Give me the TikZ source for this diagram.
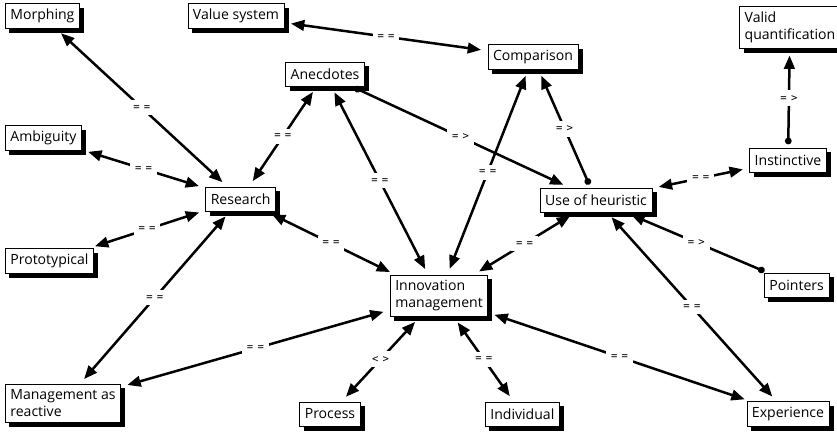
\documentclass[tikz,border=0pt]{standalone}
\usepackage{fontspec}
\setmainfont{Open Sans}
\newfontfamily\labfont[LetterSpace=40]{DejaVu Sans Mono}
\usetikzlibrary{arrows.meta,backgrounds}

\begin{document}
\begin{tikzpicture}[
  box/.style={draw, line width=0.6pt, fill=white, align=left, font=\fontsize{12}{14.5}\selectfont, minimum height=7.2mm, inner xsep=1.5mm, inner ysep=1.6mm},
  arr/.style={{Triangle[length=4mm, width=3.2mm]}-{Triangle[length=4mm, width=3.2mm]}, line width=0.75mm, shorten <=2mm, shorten >=2mm},
  darr/.style={{Circle[length=2mm]}-{Triangle[length=4mm, width=3.2mm]}, line width=0.75mm, shorten <=1mm, shorten >=2mm},
  lab/.style={fill=white, font=\labfont\fontsize{9}{10}\selectfont, inner sep=1.5mm}]
\useasboundingbox (0,0) rectangle (25.11,-12.96);
\node[box, anchor=west] (morph) at (0.15,-0.48) {Morphing};
\node[box] (valsys) at (7.08,-0.48) {Value system};
\node[box] (validq) at (23.70,-0.83) {Valid\\quantification};
\node[box] (comp) at (15.99,-1.71) {Comparison};
\node[box] (anec) at (9.75,-2.22) {Anecdotes};
\node[box, anchor=west] (ambig) at (0.15,-4.14) {Ambiguity};
\node[box] (res) at (7.22,-5.97) {Research};
\node[box] (instinct) at (23.64,-4.80) {Instinctive};
\node[box] (heur) at (17.88,-6.00) {Use of heuristic};
\node[box, anchor=west] (proto) at (0.15,-7.83) {Prototypical};
\node[box] (innov) at (13.17,-8.88) {Innovation\\management};
\node[box] (point) at (23.90,-8.55) {Pointers};
\node[box, anchor=west] (mgmt) at (0.15,-12.10) {Management as\\reactive};
\node[box] (proc) at (9.90,-12.42) {Process};
\node[box] (indiv) at (15.67,-12.42) {Individual};
\node[box] (exper) at (23.64,-12.42) {Experience};
% shadows
\begin{scope}[on background layer]
\foreach \n in {morph,valsys,validq,comp,anec,ambig,res,instinct,heur,proto,innov,point,mgmt,proc,indiv,exper}
  \fill[black] ([shift={(1.3mm,-1.3mm)}]\n.south west) rectangle ([shift={(1.3mm,-1.3mm)}]\n.north east);
\end{scope}
\foreach \a/\b/\t in {res/morph/{==}, res/ambig/{==}, res/proto/{==}, res/mgmt/{==}, res/anec/{==}, res/innov/{==}, innov/anec/{==}, innov/comp/{==}, innov/heur/{==}, innov/mgmt/{==}, innov/proc/{<>}, innov/indiv/{==}, innov/exper/{==}, heur/exper/{==}, heur/instinct/{==}, valsys/comp/{==}}
  \draw[arr] (\a) -- node[lab] {\t} (\b);
\foreach \a/\b in {point/heur, anec/heur, heur/comp, instinct/validq}
  \draw[darr] (\a) -- node[lab] {=>} (\b);
\end{tikzpicture}
\end{document}
